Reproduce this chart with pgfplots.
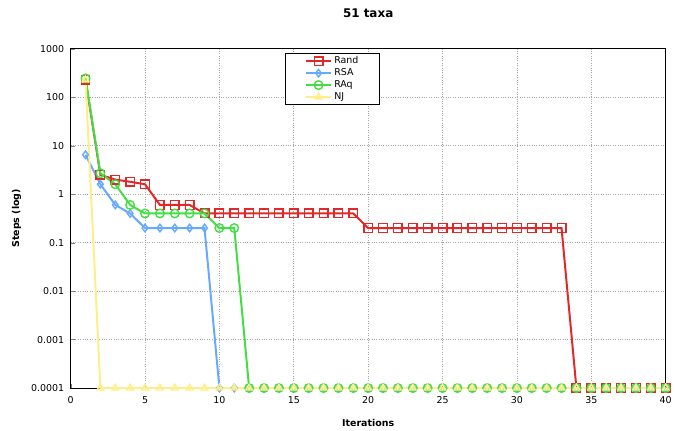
\documentclass[border=0pt]{standalone}
\usepackage{pgfplots}
\pgfplotsset{compat=1.18}
\usepackage{fontspec}
\setmainfont{DejaVu Sans}
\definecolor{cRand}{HTML}{E02828}
\definecolor{cRSA}{HTML}{66AAFF}
\definecolor{cRAq}{HTML}{44DD44}
\definecolor{cNJ}{HTML}{FFEE88}
\begin{document}
\begin{tikzpicture}
\begin{axis}[
  scale only axis, width=598pt, height=341pt,
  ymode=log, log basis y=10,
  xmin=0, xmax=40, ymin=1e-4, ymax=1000,
  xtick={0,5,...,40},
  ytick={1e-4,1e-3,1e-2,1e-1,1,10,100,1000},
  yticklabels={0.0001,0.001,0.01,0.1,1,10,100,1000},
  /pgf/number format/assume math mode=true,
  tick label style={font=\fontsize{9.5}{11}\selectfont},
  xticklabel style={yshift=-5pt},
  yticklabel style={xshift=-3pt},
  grid=major,
  major grid style={dotted, gray!70, line width=0.6pt},
  axis line style={line width=0.9pt},
  tick align=inside,
  xtick pos=bottom, ytick pos=left,
  title={\bfseries 51 taxa},
  title style={font=\fontsize{12}{13}\selectfont, yshift=22pt},
  xlabel={\bfseries Iterations},
  ylabel={\bfseries Steps (log)},
  label style={font=\fontsize{9.5}{11}\selectfont},
  xlabel style={yshift=-9pt},
  ylabel style={yshift=3pt},
  legend style={at={(0.361,0.988)}, anchor=north west, draw=black, line width=0.9pt,
    font=\fontsize{9.5}{11}\selectfont, inner xsep=19pt, inner ysep=1.5pt, row sep=-0.5pt},
  legend cell align=left,
  legend image code/.code={\draw[mark repeat=2,mark phase=2] plot coordinates {(0cm,0cm) (0.45cm,0cm) (0.9cm,0cm)};},
]
\addplot[cRand, line width=2pt, mark=square, mark size=4.3pt, mark options={draw=cRand, solid, line width=1.4pt}] coordinates {
(1,230)(2,2.5)(3,2.0)(4,1.8)(5,1.6)(6,0.6)(7,0.6)(8,0.6)(9,0.4)(10,0.4)
(11,0.4)(12,0.4)(13,0.4)(14,0.4)(15,0.4)(16,0.4)(17,0.4)(18,0.4)(19,0.4)
(20,0.2)(21,0.2)(22,0.2)(23,0.2)(24,0.2)(25,0.2)(26,0.2)(27,0.2)(28,0.2)
(29,0.2)(30,0.2)(31,0.2)(32,0.2)(33,0.2)(34,1e-4)(35,1e-4)(36,1e-4)
(37,1e-4)(38,1e-4)(39,1e-4)(40,1e-4)};
\addlegendentry{Rand}
\addplot[cRSA, line width=2pt, mark=diamond, mark size=3.8pt, mark options={draw=cRSA, solid, line width=1.4pt}] coordinates {
(1,6.5)(2,1.6)(3,0.6)(4,0.4)(5,0.2)(6,0.2)(7,0.2)(8,0.2)(9,0.2)(10,1e-4)
(11,1e-4)(12,1e-4)(13,1e-4)(14,1e-4)(15,1e-4)(16,1e-4)(17,1e-4)(18,1e-4)
(19,1e-4)(20,1e-4)(21,1e-4)(22,1e-4)(23,1e-4)(24,1e-4)(25,1e-4)(26,1e-4)
(27,1e-4)(28,1e-4)(29,1e-4)(30,1e-4)(31,1e-4)(32,1e-4)(33,1e-4)(34,1e-4)
(35,1e-4)(36,1e-4)(37,1e-4)(38,1e-4)(39,1e-4)(40,1e-4)};
\addlegendentry{RSA}
\addplot[cRAq, line width=2pt, mark=o, mark size=4.3pt, mark options={draw=cRAq, solid, line width=1.4pt}] coordinates {
(1,245)(2,2.7)(3,1.6)(4,0.6)(5,0.4)(6,0.4)(7,0.4)(8,0.4)(9,0.4)(10,0.2)
(11,0.2)(12,1e-4)(13,1e-4)(14,1e-4)(15,1e-4)(16,1e-4)(17,1e-4)(18,1e-4)
(19,1e-4)(20,1e-4)(21,1e-4)(22,1e-4)(23,1e-4)(24,1e-4)(25,1e-4)(26,1e-4)
(27,1e-4)(28,1e-4)(29,1e-4)(30,1e-4)(31,1e-4)(32,1e-4)(33,1e-4)(34,1e-4)
(35,1e-4)(36,1e-4)(37,1e-4)(38,1e-4)(39,1e-4)(40,1e-4)};
\addlegendentry{RAq}
\addplot[cNJ, line width=2pt, mark=triangle, mark size=3.8pt, mark options={draw=cNJ, solid, line width=1.4pt}] coordinates {
(1,230)(2,1e-4)(3,1e-4)(4,1e-4)(5,1e-4)(6,1e-4)(7,1e-4)(8,1e-4)(9,1e-4)(10,1e-4)
(11,1e-4)(12,1e-4)(13,1e-4)(14,1e-4)(15,1e-4)(16,1e-4)(17,1e-4)(18,1e-4)
(19,1e-4)(20,1e-4)(21,1e-4)(22,1e-4)(23,1e-4)(24,1e-4)(25,1e-4)(26,1e-4)
(27,1e-4)(28,1e-4)(29,1e-4)(30,1e-4)(31,1e-4)(32,1e-4)(33,1e-4)(34,1e-4)
(35,1e-4)(36,1e-4)(37,1e-4)(38,1e-4)(39,1e-4)(40,1e-4)};
\addlegendentry{NJ}
\end{axis}
\path ([xshift=-71pt,yshift=-40pt]current axis.south west) rectangle ([xshift=6pt,yshift=49pt]current axis.north east);
\end{tikzpicture}
\end{document}
